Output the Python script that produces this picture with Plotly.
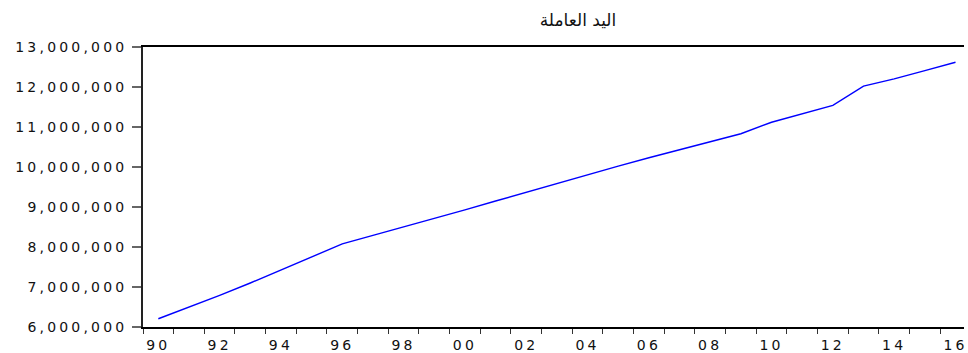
import plotly.graph_objects as go

# Data (annual, 1990-2016)
years = list(range(1990, 2017))
labor = [6206000, 6490000, 6790000, 7100000, 7430000, 7750000, 8077000,
         8290000, 8500000, 8720000, 8930000, 9150000, 9370000, 9580000,
         9800000, 10020000, 10230000, 10430000, 10630000, 10831000,
         11119000, 11330000, 11541000, 12022000, 12203000, 12410000, 12618000]

y_ticks = [6000000, 7000000, 8000000, 9000000, 10000000, 11000000, 12000000, 13000000]
x_label_years = list(range(1990, 2017, 2))
title_text = "اليد العاملة"

W, H = 968, 353
L, R, T, B = 143, 0, 47, 24
px_per_year = 30.81
x0 = years[0] - 0.5
x1 = x0 + (W - L - R) / px_per_year

def spaced(s, sp=2.6):
    return '<span style="letter-spacing:%.1fpx">%s</span>' % (sp, s)

fig = go.Figure()
fig.add_trace(go.Scatter(x=years, y=labor, mode="lines",
                         line=dict(color="#0000FF", width=1.4),
                         hoverinfo="skip", showlegend=False))

fig.update_layout(
    width=W, height=H,
    margin=dict(l=L, r=R, t=T, b=B, pad=0),
    paper_bgcolor="white", plot_bgcolor="white",
    font=dict(family="DejaVu Sans", size=14, color="#111"),
    title=dict(text=title_text, x=578 / W, xanchor="center",
               y=1 - 20 / H, yanchor="middle", yref="container", xref="container",
               font=dict(family="DejaVu Sans", size=17, color="#111")),
    showlegend=False,
)

fig.update_xaxes(
    range=[x0, x1], showgrid=False, zeroline=False,
    showline=True, linecolor="black", linewidth=1.5, mirror=True,
    tickmode="array", tickvals=x_label_years,
    ticktext=[spaced("%02d" % (y % 100), 3.2) for y in x_label_years],
    ticks="outside", ticklen=0, tickcolor="black",
    ticklabelstandoff=4, ticklabeloverflow="allow",
    minor=dict(tickmode="array",
               tickvals=[y - 0.5 for y in years] + [years[-1] + 0.5],
               ticks="outside", ticklen=5, tickcolor="#333", tickwidth=1, showgrid=False),
    tickfont=dict(family="DejaVu Sans", size=14, color="#111"),
)

fig.update_yaxes(
    range=[y_ticks[0], y_ticks[-1]], showgrid=False, zeroline=False,
    showline=True, linecolor="#222", linewidth=1.5,
    tickmode="array", tickvals=y_ticks,
    ticktext=[spaced(f"{v:,}", 3.2) for v in y_ticks],
    ticks="outside", ticklen=9, tickcolor="#666", tickwidth=1.5,
    ticklabelstandoff=2,
    tickfont=dict(family="DejaVu Sans", size=14, color="#111"),
)

fig.write_html("out.html")
